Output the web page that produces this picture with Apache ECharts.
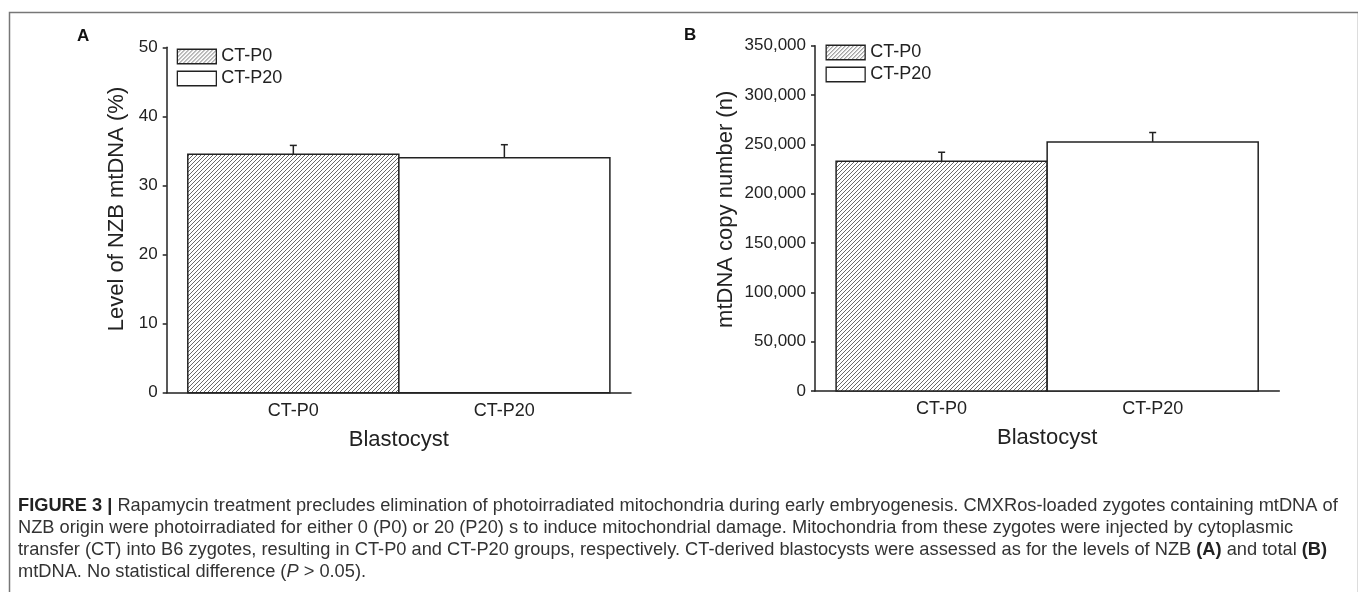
<!DOCTYPE html>
<html><head><meta charset="utf-8">
<script src="https://cdn.jsdelivr.net/npm/echarts@6/dist/echarts.min.js"></script>
<style>html,body{margin:0;padding:0;background:#fff}#c{width:1358px;height:592px}</style>
</head><body><div id="c"></div>
<script>
// ---- data ----
const categories = ['CT-P0', 'CT-P20'];
const categoryPos = [1, 2];
const levelMean = [34.5, 34.0];      // Level of NZB mtDNA (%)
const levelErr = [1.3, 1.9];
const copyMean = [233000, 252500];   // mtDNA copy number (n)
const copyErr = [9000, 9500];
const levelAxis = [0, 50, 10];
const copyAxis = [0, 350000, 50000];

const FONT = "'Liberation Sans', Arial, sans-serif";
const INK = '#222';

function hatchCanvas() {
  const s = 4;
  const c = document.createElement('canvas'); c.width = s; c.height = s;
  const g = c.getContext('2d');
  g.fillStyle = '#fff'; g.fillRect(0, 0, s, s);
  g.strokeStyle = '#6a6a6a'; g.lineWidth = 1;
  g.beginPath();
  g.moveTo(0, s); g.lineTo(s, 0);
  g.moveTo(-1, 1); g.lineTo(1, -1);
  g.moveTo(s - 1, s + 1); g.lineTo(s + 1, s - 1);
  g.stroke();
  return c;
}
const hatch = { image: hatchCanvas(), repeat: 'repeat' };
const fills = [hatch, '#ffffff'];

function barRenderer(fill) {
  return function (params, api) {
    const x = api.value(0), y = api.value(1);
    const p0 = api.coord([x - 0.5, y]);
    const p1 = api.coord([x + 0.5, 0]);
    return { type: 'rect',
      shape: { x: p0[0], y: p0[1], width: p1[0] - p0[0], height: p1[1] - p0[1] },
      style: { fill: fill, stroke: INK, lineWidth: 1.5 } };
  };
}
function errRenderer(params, api) {
  const x = api.value(0), m = api.value(1), e = api.value(2);
  const a = api.coord([x, m]), b = api.coord([x, m + e]);
  const hw = 3.5;
  return { type: 'group', children: [
    { type: 'line', shape: { x1: a[0], y1: a[1], x2: b[0], y2: b[1] }, style: { stroke: INK, lineWidth: 1.5 } },
    { type: 'line', shape: { x1: b[0] - hw, y1: b[1], x2: b[0] + hw, y2: b[1] }, style: { stroke: INK, lineWidth: 1.5 } }
  ] };
}

function xAxisFor(gi) {
  return { type: 'value', gridIndex: gi, min: 0.4, max: 2.6,
    name: 'Blastocyst', nameLocation: 'middle', nameGap: 36,
    nameTextStyle: { fontSize: 22, color: INK, fontFamily: FONT },
    axisLine: { show: true, lineStyle: { color: INK, width: 1.5 } },
    axisTick: { show: false }, splitLine: { show: false },
    axisLabel: { customValues: categoryPos, formatter: v => categories[categoryPos.indexOf(v)] || '',
      fontSize: 18, color: INK, fontFamily: FONT, margin: 9 } };
}
function yAxisFor(gi, ax, name, gap, pad, fmt) {
  return { type: 'value', gridIndex: gi, min: ax[0], max: ax[1], interval: ax[2],
    name: name, nameLocation: 'middle', nameGap: gap,
    nameTextStyle: { fontSize: 22, color: INK, fontFamily: FONT, padding: [0, 0, 0, pad] },
    axisLine: { show: true, lineStyle: { color: INK, width: 1.5 } },
    axisTick: { show: true, inside: false, length: 4, lineStyle: { color: INK, width: 1.5 } },
    splitLine: { show: false },
    axisLabel: { fontSize: 17, color: INK, fontFamily: FONT, margin: 9, formatter: fmt } };
}
function legendFor(left, top) {
  return { left: left, top: top, orient: 'vertical', padding: 0, itemWidth: 39, itemHeight: 14.5, itemGap: 4,
    textStyle: { fontSize: 18, color: INK, fontFamily: FONT, lineHeight: 18 },
    selectedMode: false,
    data: categories.map((c, i) => ({ name: c, icon: 'rect',
      itemStyle: { color: fills[i], borderColor: INK, borderWidth: 1.3 } })) };
}

const series = [];
[[levelMean, levelErr, 0], [copyMean, copyErr, 1]].forEach(([mean, err, gi]) => {
  categories.forEach((c, i) => {
    series.push({ type: 'custom', name: c, xAxisIndex: gi, yAxisIndex: gi,
      itemStyle: { color: fills[i], borderColor: INK },
      renderItem: barRenderer(fills[i]), data: [[categoryPos[i], mean[i]]], z: 2, silent: true });
  });
  series.push({ type: 'custom', name: 'err' + gi, xAxisIndex: gi, yAxisIndex: gi,
    renderItem: errRenderer, data: categories.map((c, i) => [categoryPos[i], mean[i], err[i]]), z: 3, silent: true });
});

const captionLines = [
  '{b|FIGURE 3 |} Rapamycin treatment precludes elimination of photoirradiated mitochondria during early embryogenesis. CMXRos-loaded zygotes containing mtDNA of',
  'NZB origin were photoirradiated for either 0 (P0) or 20 (P20) s to induce mitochondrial damage. Mitochondria from these zygotes were injected by cytoplasmic',
  'transfer (CT) into B6 zygotes, resulting in CT-P0 and CT-P20 groups, respectively. CT-derived blastocysts were assessed as for the levels of NZB {b|(A)} and total {b|(B)}',
  'mtDNA. No statistical difference ({i|P} > 0.05).'
];

const chart = echarts.init(document.getElementById('c'), null, { renderer: 'canvas' });
chart.setOption({
  backgroundColor: '#fff',
  animation: false,
  title: [
    { text: 'A', left: 77, top: 28, padding: 0, textStyle: { fontSize: 17, fontWeight: 'bold', color: '#111', fontFamily: FONT } },
    { text: 'B', left: 684, top: 27, padding: 0, textStyle: { fontSize: 17, fontWeight: 'bold', color: '#111', fontFamily: FONT } }
  ],
  grid: [
    { left: 166.7, top: 47.3, width: 464.3, height: 345.4 },
    { left: 815, top: 45.7, width: 464.3, height: 345.3 }
  ],
  legend: [legendFor(176.7, 47.5), legendFor(825.5, 43.5)],
  xAxis: [xAxisFor(0), xAxisFor(1)],
  yAxis: [
    yAxisFor(0, levelAxis, 'Level of NZB mtDNA (%)', 39, 22, v => String(v)),
    yAxisFor(1, copyAxis, 'mtDNA copy number (n)', 78, 18, v => v.toLocaleString('en-US'))
  ],
  series: series,
  graphic: [
    { type: 'rect', left: 7, top: 10, silent: true,
      shape: { width: 1349, height: 600 }, style: { fill: null, stroke: '#777', lineWidth: 1.5 } },
    { type: 'text', left: 18, top: 495, silent: true,
      style: { text: captionLines.join('\n'), fontSize: 18.25, lineHeight: 22, fill: '#333', fontFamily: FONT,
        rich: { b: { fontWeight: 'bold', fontSize: 18.25, fill: '#222', fontFamily: FONT, lineHeight: 22 },
                i: { fontStyle: 'italic', fontSize: 18.25, fill: '#333', fontFamily: FONT, lineHeight: 22 } } } }
  ]
});
</script>
</body></html>
